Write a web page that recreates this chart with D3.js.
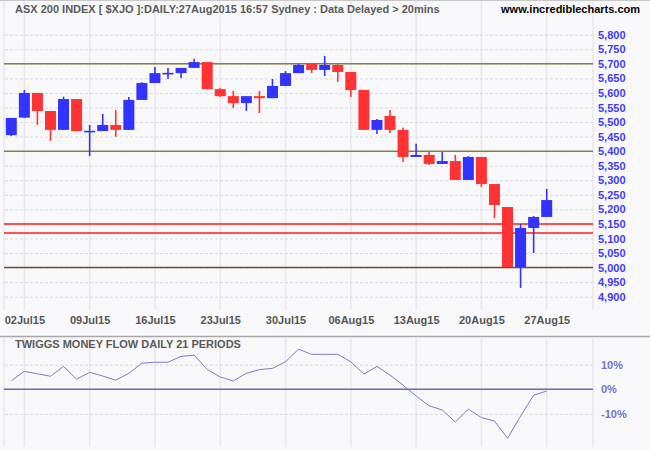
<!DOCTYPE html>
<html><head><meta charset="utf-8">
<script src="https://cdn.jsdelivr.net/npm/d3@7"></script>
<style>
html,body{margin:0;padding:0;background:#f8f8fa;}
svg{display:block;}
text{font-family:"Liberation Sans",Arial,sans-serif;font-weight:bold;}
</style></head>
<body><svg id="c" width="650" height="450"></svg>
<script>
const dates = ["01Jul15","02Jul15","03Jul15","06Jul15","07Jul15","08Jul15","09Jul15","10Jul15","13Jul15","14Jul15",
"15Jul15","16Jul15","17Jul15","20Jul15","21Jul15","22Jul15","23Jul15","24Jul15","27Jul15","28Jul15",
"29Jul15","30Jul15","31Jul15","03Aug15","04Aug15","05Aug15","06Aug15","07Aug15","10Aug15","11Aug15",
"12Aug15","13Aug15","14Aug15","17Aug15","18Aug15","19Aug15","20Aug15","21Aug15","24Aug15","25Aug15",
"26Aug15","27Aug15"];
const open  = [5455,5515,5600,5538,5473,5579,5468,5469,5490,5473,5576,5634,5667,5668,5686,5706,5613,5589,5565,5589,5582,5624,5668,5699,5679,5696,5672,5610,5473,5521,5473,5380,5387,5356,5366,5301,5380,5287,5208,5002,5136,5174];
const high  = [5514,5610,5600,5538,5587,5579,5490,5528,5541,5586,5637,5689,5686,5686,5717,5706,5617,5607,5589,5607,5648,5675,5699,5703,5727,5699,5672,5610,5510,5541,5480,5425,5400,5397,5387,5383,5380,5287,5208,5150,5177,5270];
const low   = [5452,5515,5490,5436,5473,5469,5383,5469,5449,5473,5576,5634,5648,5651,5686,5613,5586,5548,5538,5531,5582,5624,5668,5668,5658,5638,5586,5473,5459,5462,5363,5380,5352,5356,5301,5301,5277,5170,5002,4930,5050,5174];
const close = [5514,5600,5538,5473,5579,5469,5470,5490,5473,5576,5634,5668,5669,5686,5706,5613,5589,5565,5589,5582,5624,5668,5696,5679,5696,5672,5610,5473,5507,5473,5380,5387,5356,5366,5301,5380,5287,5215,5002,5136,5174,5232];
const tmf = [3.5,7.3,6.3,5.3,9.3,4.1,6.9,5.4,3.7,6.5,10.6,11,11,13.4,13.9,8.1,5,3.4,6.5,8,8.5,11.2,16.3,14.2,14.2,14.2,11.2,6.2,9.3,5.8,1.7,-2.7,-6.7,-8.4,-13.3,-8.1,-11.5,-12.9,-19.9,-10.9,-2.4,-0.7];
const xTickLabels = ["02Jul15","09Jul15","16Jul15","23Jul15","30Jul15","06Aug15","13Aug15","20Aug15","27Aug15"];
const yTicks = [5800,5750,5700,5650,5600,5550,5500,5450,5400,5350,5300,5250,5200,5150,5100,5050,5000,4950,4900];
const olivelines = [5700,5400];
const redLines = [5150,5119];
const brownLines = [5000];
const tmfTicks = [10,0,-10];
const title = "ASX 200 INDEX [ $XJO ]:DAILY:27Aug2015 16:57 Sydney : Data Delayed > 20mins";
const site = "www.incrediblecharts.com";
const subTitle = "TWIGGS MONEY FLOW DAILY 21 PERIODS";

const svg = d3.select("#c");
const L = 4, R = 593;
const x = d3.scaleLinear().domain([0, dates.length-1]).range([11.3, 546.7]);
const y = d3.scaleLinear().domain([4900,5800]).range([296.7,34.7]);
const y2 = d3.scaleLinear().domain([-10,10]).range([413.9,364.7]);

svg.append("rect").attr("width",650).attr("height",450).attr("fill","#f8f8fa");
svg.append("line").attr("x1",0).attr("x2",650).attr("y1",0.5).attr("y2",0.5).attr("stroke","#c8c8c8");

// vertical grid
const tickIdx = xTickLabels.map(l => dates.indexOf(l));
const vg = svg.append("g");
tickIdx.forEach(i => {
  vg.append("line").attr("x1",x(i)).attr("x2",x(i)).attr("y1",1).attr("y2",310).attr("stroke","#e8e8ec").attr("stroke-width",1.5);
  vg.append("line").attr("x1",x(i)).attr("x2",x(i)).attr("y1",338).attr("y2",447).attr("stroke","#e8e8ec").attr("stroke-width",1.5);
});
vg.append("line").attr("x1",L).attr("x2",L).attr("y1",1).attr("y2",310).attr("stroke","#e8e8ec").attr("stroke-width",1.5);
vg.append("line").attr("x1",R).attr("x2",R).attr("y1",1).attr("y2",310).attr("stroke","#e8e8ec").attr("stroke-width",1.5);
vg.append("line").attr("x1",L).attr("x2",L).attr("y1",338).attr("y2",447).attr("stroke","#e8e8ec").attr("stroke-width",1.5);
vg.append("line").attr("x1",R).attr("x2",R).attr("y1",338).attr("y2",447).attr("stroke","#e8e8ec").attr("stroke-width",1.5);

// horizontal dashed grid
svg.append("g").attr("transform",`translate(${R},0)`)
  .call(d3.axisLeft(y).tickValues(yTicks).tickSize(R-L).tickFormat(""))
  .call(g => g.select(".domain").remove())
  .call(g => g.selectAll("line").attr("stroke","#dcdcdf").attr("stroke-dasharray","3,2"));

// y labels
svg.append("g").attr("transform",`translate(598,0)`)
  .call(d3.axisRight(y).tickValues(yTicks).tickSize(0).tickPadding(0).tickFormat(d3.format(",")))
  .call(g => g.select(".domain").remove())
  .call(g => g.selectAll("text").attr("fill","#3c3cff").attr("font-size","11px")
        .attr("font-family","'Liberation Sans',Arial,sans-serif").attr("font-weight","bold"));

// level lines
const lv = svg.append("g");
olivelines.forEach(v => lv.append("line").attr("x1",L).attr("x2",R).attr("y1",y(v)).attr("y2",y(v)).attr("stroke","#808040").attr("stroke-width",1.5));
redLines.forEach(v => lv.append("line").attr("x1",L).attr("x2",R).attr("y1",y(v)).attr("y2",y(v)).attr("stroke","#ff1a1a").attr("stroke-width",1.5));
brownLines.forEach(v => lv.append("line").attr("x1",L).attr("x2",R).attr("y1",y(v)).attr("y2",y(v)).attr("stroke","#7a4a20").attr("stroke-width",1.5));

// candles
const cw = 11;
const cg = svg.append("g");
dates.forEach((d,i) => {
  const up = close[i] >= open[i];
  const col = up ? "#3333ff" : "#ff3333";
  cg.append("line").attr("x1",x(i)).attr("x2",x(i)).attr("y1",y(high[i])).attr("y2",y(low[i]))
    .attr("stroke",col).attr("stroke-width",1.6);
  const top = y(Math.max(open[i],close[i])), bot = y(Math.min(open[i],close[i]));
  cg.append("rect").attr("x",x(i)-cw/2).attr("width",cw).attr("y",top).attr("height",Math.max(bot-top,1.6)).attr("fill",col);
});

// x labels
svg.append("g").attr("transform","translate(0,327)")
  .call(d3.axisBottom(x).tickValues(tickIdx).tickSize(0).tickPadding(0).tickFormat(i => dates[i]))
  .call(g => g.select(".domain").remove())
  .call(g => g.selectAll("text").attr("fill","#555").attr("font-size","11px").attr("dy","-0.3em")
        .attr("font-family","'Liberation Sans',Arial,sans-serif").attr("font-weight","bold"));

// separator
svg.append("line").attr("x1",0).attr("x2",650).attr("y1",336.5).attr("y2",336.5).attr("stroke","#a8a8a8").attr("stroke-width",1.5);

// titles
svg.append("text").attr("x",15).attr("y",12.5).attr("fill","#5a5a5a").attr("font-size","11px").text(title);
svg.append("text").attr("x",640).attr("y",12.5).attr("text-anchor","end").attr("fill","#000").attr("font-size","11px").text(site);
svg.append("text").attr("x",15).attr("y",347.5).attr("fill","#5a5a5a").attr("font-size","11px").text(subTitle);

// lower panel grid
svg.append("g").attr("transform",`translate(${R},0)`)
  .call(d3.axisLeft(y2).tickValues([10,-10]).tickSize(R-L).tickFormat(""))
  .call(g => g.select(".domain").remove())
  .call(g => g.selectAll("line").attr("stroke","#dcdcdf").attr("stroke-dasharray","3,2"));
svg.append("line").attr("x1",L).attr("x2",R).attr("y1",y2(0)).attr("y2",y2(0)).attr("stroke","#6a6ab4").attr("stroke-width",1.5);

svg.append("g").attr("transform",`translate(601,0)`)
  .call(d3.axisRight(y2).tickValues(tmfTicks).tickSize(0).tickPadding(0).tickFormat(d => d + "%"))
  .call(g => g.select(".domain").remove())
  .call(g => g.selectAll("text").attr("fill","#7474c4").attr("font-size","11px")
        .attr("font-family","'Liberation Sans',Arial,sans-serif").attr("font-weight","bold"));

svg.append("path").datum(tmf)
  .attr("d", d3.line().x((d,i) => x(i)).y(d => y2(d)))
  .attr("fill","none").attr("stroke","#7b7bc8").attr("stroke-width",1);
</script></body></html>
